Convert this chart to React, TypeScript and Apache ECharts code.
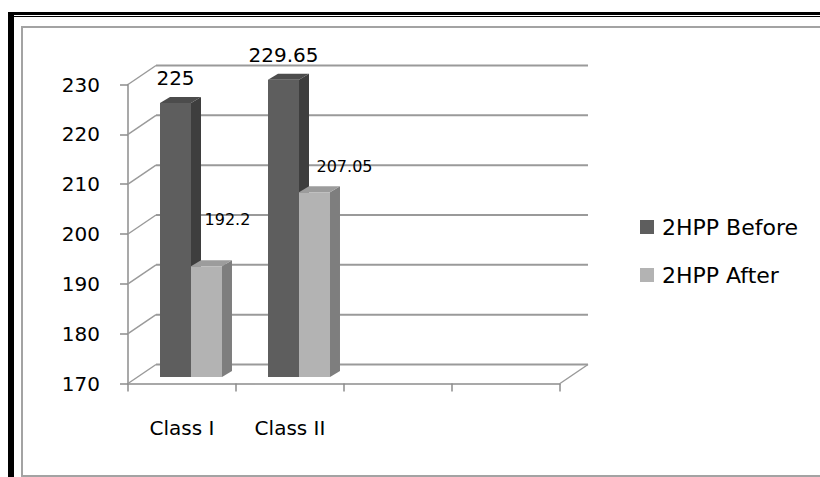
import React, { useEffect, useRef } from 'react';
import * as echarts from 'echarts';

// ---- data ----
const categories = ['Class I', 'Class II', '', ''];
const seriesNames = ['2HPP Before', '2HPP After'];
const beforeValues = [225, 229.65];
const afterValues = [192.2, 207.05];
const yTicks = [170, 180, 190, 200, 210, 220, 230];

// ---- styling constants ----
const FONT = 'DejaVu Sans';
const Y_MIN = 170;
const Y_MAX = 230;
const DX = 28; // depth of the 3D box (x)
const DY = -19; // depth of the 3D box (y)
const OX = 9; // bar front face offset from front plane
const OY = -6.5;
const BX = 10; // bar depth
const BY = -6;
const BAR_FRACTION = 0.287;
const GRID_COLOR = '#9a9a9a';
const AXIS_COLOR = '#8c8c8c';

const darkColors = { front: '#5e5e5e', side: '#3e3e3e', top: '#4c4c4c' };
const lightColors = { front: '#b3b3b3', side: '#7e7e7e', top: '#9c9c9c' };
const beforeLabelNudge = [[0, -25], [0, -25]];
const afterLabelNudge = [[21, -47], [30, -26]];

function makeBarRender(
  side: 'left' | 'right',
  colors: { front: string; side: string; top: string },
  fontSize: number,
  nudge: number[][]
) {
  return (params: any, api: any) => {
    const i = api.value(0);
    const v = api.value(1);
    const top = api.coord([i, v]);
    const base = api.coord([i, Y_MIN]);
    const band = api.size([1, 0])[0];
    const bw = band * BAR_FRACTION;
    const xl = (side === 'left' ? top[0] - bw : top[0]) + OX;
    const xr = xl + bw;
    const yt = top[1] + OY;
    const yb = base[1] + OY;
    const n = nudge[params.dataIndex] || [0, -25];
    return {
      type: 'group',
      children: [
        {
          type: 'polygon',
          shape: { points: [[xr, yt], [xr + BX, yt + BY], [xr + BX, yb + BY], [xr, yb]] },
          style: { fill: colors.side },
        },
        {
          type: 'polygon',
          shape: { points: [[xl, yt], [xl + BX, yt + BY], [xr + BX, yt + BY], [xr, yt]] },
          style: { fill: colors.top },
        },
        {
          type: 'rect',
          shape: { x: xl, y: yt, width: bw, height: yb - yt },
          style: { fill: colors.front },
        },
        {
          type: 'text',
          style: {
            text: String(v),
            x: (xl + xr) / 2 + n[0],
            y: yt + n[1],
            align: 'center',
            verticalAlign: 'middle',
            fontSize,
            fontFamily: FONT,
            fill: '#000',
          },
        },
      ],
    };
  };
}

function wallRender(params: any, api: any) {
  const v = api.value(1);
  const cs = params.coordSys;
  const left = cs.x;
  const right = cs.x + cs.width;
  const y = api.coord([0, v])[1];
  const children: any[] = [
    {
      type: 'line',
      shape: { x1: left + DX, y1: y + DY, x2: right + DX, y2: y + DY },
      style: { stroke: GRID_COLOR, lineWidth: 2 },
    },
    {
      type: 'line',
      shape: { x1: left, y1: y, x2: left + DX, y2: y + DY },
      style: { stroke: GRID_COLOR, lineWidth: 1.5 },
    },
  ];
  if (v === Y_MIN) {
    children.push({
      type: 'line',
      shape: { x1: right, y1: y, x2: right + DX, y2: y + DY },
      style: { stroke: GRID_COLOR, lineWidth: 1.5 },
    });
  }
  return { type: 'group', children };
}

export default function App() {
  const ref = useRef<HTMLDivElement>(null);
  useEffect(() => {
    document.body.style.margin = '0';
    const chart = echarts.init(ref.current!, null, { renderer: 'svg' });
    const option: any = {
      animation: false,
      backgroundColor: '#ffffff',
      grid: { left: 128, right: 260, top: 84.5, bottom: 93.5 },
      xAxis: {
        type: 'category',
        data: categories,
        axisLine: { show: true, lineStyle: { color: AXIS_COLOR, width: 1.5 } },
        axisTick: { show: true, length: 8, lineStyle: { color: AXIS_COLOR, width: 1.5 } },
        axisLabel: { margin: 34, fontSize: 20, fontFamily: FONT, color: '#000' },
        splitLine: { show: false },
      },
      yAxis: {
        type: 'value',
        min: Y_MIN,
        max: Y_MAX,
        interval: 10,
        axisLine: { show: true, lineStyle: { color: AXIS_COLOR, width: 1.5 } },
        axisTick: { show: true, length: 8, lineStyle: { color: AXIS_COLOR, width: 1.5 } },
        axisLabel: { margin: 28, fontSize: 20, fontFamily: FONT, color: '#000', padding: [3, 0, 0, 0] },
        splitLine: { show: false },
      },
      legend: {
        data: [
          { name: seriesNames[0], itemStyle: { color: darkColors.front } },
          { name: seriesNames[1], itemStyle: { color: lightColors.front } },
        ],
        orient: 'vertical',
        left: 640,
        top: 216,
        padding: 0,
        itemWidth: 14,
        itemHeight: 14,
        itemGap: 26,
        icon: 'rect',
        textStyle: { fontSize: 22, fontFamily: FONT, color: '#000', lineHeight: 22, padding: [0, 0, 0, 3] },
      },
      series: [
        {
          type: 'custom',
          name: 'walls',
          silent: true,
          z: 1,
          data: yTicks.map((v) => [0, v]),
          renderItem: wallRender,
        },
        {
          type: 'custom',
          name: seriesNames[0],
          z: 3,
          itemStyle: { color: darkColors.front },
          data: beforeValues.map((v, i) => [i, v]),
          renderItem: makeBarRender('left', darkColors, 20, beforeLabelNudge),
        },
        {
          type: 'custom',
          name: seriesNames[1],
          z: 4,
          itemStyle: { color: lightColors.front },
          data: afterValues.map((v, i) => [i, v]),
          renderItem: makeBarRender('right', lightColors, 16, afterLabelNudge),
        },
      ],
      graphic: [
        {
          type: 'rect',
          silent: true,
          shape: { x: 22, y: 27, width: 840, height: 449 },
          style: { fill: 'none', stroke: '#a3a3a3', lineWidth: 2 },
        },
        {
          type: 'line',
          silent: true,
          shape: { x1: 8, y1: 13.5, x2: 840, y2: 13.5 },
          style: { stroke: '#000', lineWidth: 3 },
        },
        {
          type: 'line',
          silent: true,
          shape: { x1: 8, y1: 16.5, x2: 840, y2: 16.5 },
          style: { stroke: '#000', lineWidth: 1.2 },
        },
        {
          type: 'rect',
          silent: true,
          shape: { x: 8, y: 12, width: 6, height: 470 },
          style: { fill: '#000' },
        },
      ],
    };
    chart.setOption(option);
    return () => chart.dispose();
  }, []);
  return <div ref={ref} style={{ width: 820, height: 477 }} />;
}
